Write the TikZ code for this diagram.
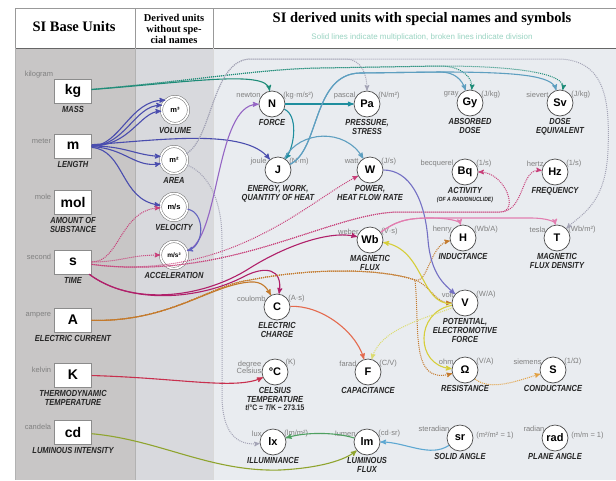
\documentclass[tikz,border=0pt]{standalone}
\usepackage{fontspec}
\setmainfont{Liberation Serif}
\setsansfont{Liberation Sans}
\newfontfamily\qtyfont[FakeStretch=0.85]{Liberation Sans}
\usepackage{tikz}
\usetikzlibrary{arrows,positioning}

\definecolor{leftcol}{HTML}{C8C6C6}
\definecolor{midcol}{HTML}{D8D9DD}
\definecolor{rightcol}{HTML}{E9ECF0}
\definecolor{subcol}{HTML}{9AD4C2}
\definecolor{kgcol}{HTML}{1E8C78}
\definecolor{mcol}{HTML}{4A4DAE}
\definecolor{scol}{HTML}{B0206A}
\definecolor{sdot}{HTML}{C8407A}
\definecolor{acol}{HTML}{C47A2C}
\definecolor{kcol}{HTML}{C8304E}
\definecolor{cdcol}{HTML}{8FA42E}
\definecolor{acccol}{HTML}{9566C4}
\definecolor{velcol}{HTML}{6464C0}
\definecolor{ncol}{HTML}{1F8E9E}
\definecolor{jcol}{HTML}{5E9FC0}
\definecolor{areacol}{HTML}{A4A4B6}
\definecolor{wcol}{HTML}{7470C4}
\definecolor{vcol}{HTML}{D6CE3A}
\definecolor{vdot}{HTML}{DCDC70}
\definecolor{wbcol}{HTML}{E27EB0}
\definecolor{ccol}{HTML}{E46A4E}
\definecolor{ohmdot}{HTML}{E2A040}
\definecolor{lmcol}{HTML}{4EA060}
\definecolor{srcol}{HTML}{5EA8D2}

\begin{document}
\begin{tikzpicture}[x=1pt,y=-1pt,>=stealth',
  base node/.style={rectangle,draw=black!45,fill=white,minimum width=37pt,minimum height=24pt,inner sep=0pt,font=\sffamily\bfseries\fontsize{14}{14}\selectfont},
  plain node/.style={circle,draw=black!55,double=white,double distance=1.8pt,line width=0.5pt,fill=white,minimum size=27pt,inner sep=0pt,font=\sffamily\bfseries\fontsize{7.5}{7.5}\selectfont},
  main node/.style={circle,draw=black!70,fill=white,line width=0.7pt,minimum size=26pt,inner sep=0pt,font=\sffamily\bfseries\fontsize{11}{11}\selectfont},
  qty/.style={font=\qtyfont\bfseries\itshape\fontsize{8.8}{8.8}\selectfont,align=center,inner sep=1pt,text=black!85},
  uname/.style={font=\sffamily\fontsize{7.5}{7.5}\selectfont,text=black!50,inner sep=1pt,align=right},
  mult line/.style={->,line width=1.1pt},
  div line/.style={->,line width=1pt,densely dotted}]

  \useasboundingbox (0,0) rectangle (616,480);
  \fill[white] (0,0) rectangle (616,480);
  \fill[leftcol] (15,48) rectangle (135,480);
  \fill[midcol] (135,48) rectangle (213,480);
  \fill[rightcol] (213,48) rectangle (616,480);
  \draw[black!40] (15,8) rectangle (616,48) (135,8) -- (135,48) (213,8) -- (213,48);
  \draw[black!60,line width=1pt] (15,48) -- (616,48);
  \draw[white!85!black,line width=0.8pt] (213,48) -- (213,480);
  \draw[black!30] (15,48) -- (15,480) (135,48) -- (135,480);

  \node[font=\bfseries\fontsize{14.5}{14.5}\selectfont] (basetitle) at (74,27) {SI Base Units};
  \node[font=\bfseries\fontsize{10.5}{11}\selectfont,align=center] (midtitle) at (174,29) {Derived units\\without spe-\\cial names};
  \node[font=\bfseries\fontsize{14.5}{14.5}\selectfont] (title) at (422,19) {SI derived units with special names and symbols};
  \node[font=\sffamily\fontsize{8}{8}\selectfont,text=subcol,below=1pt of title] (subtitle) {Solid lines indicate multiplication, broken lines indicate division};

  \node[base node] (kg) at (73,91) {kg};
  \node[uname,above left=0pt and 0pt of kg.north west] (kgname) {kilogram};
  \node[qty,below=2pt of kg] (kgq) {MASS};
  \node[base node] (m) at (73,146) {m};
  \node[uname,left=2pt of m.165] (mname) {meter};
  \node[qty,below=2pt of m] (mq) {LENGTH};
  \node[base node] (mol) at (73,202) {mol};
  \node[uname,left=2pt of mol.165] (molname) {mole};
  \node[qty,below=2pt of mol] (molq) {AMOUNT OF\\SUBSTANCE};
  \node[base node] (s) at (73,262) {s};
  \node[uname,left=2pt of s.165] (sname) {second};
  \node[qty,below=2pt of s] (sq) {TIME};
  \node[base node] (A) at (73,320) {A};
  \node[uname,left=2pt of A.165] (Aname) {ampere};
  \node[qty,below=2pt of A] (Aq) {ELECTRIC CURRENT};
  \node[base node] (K) at (73,375) {K};
  \node[uname,left=2pt of K.165] (Kname) {kelvin};
  \node[qty,below=2pt of K] (Kq) {THERMODYNAMIC\\TEMPERATURE};
  \node[base node] (cd) at (73,432) {cd};
  \node[uname,left=2pt of cd.165] (cdname) {candela};
  \node[qty,below=2pt of cd] (cdq) {LUMINOUS INTENSITY};

  \node[plain node] (vol) at (175,110) {m³};
  \node[qty,below=2pt of vol] (volq) {VOLUME};
  \node[plain node] (area) at (174,160) {m²};
  \node[qty,below=2pt of area] (areaq) {AREA};
  \node[plain node] (vel) at (174,207) {m/s};
  \node[qty,below=2pt of vel] (velq) {VELOCITY};
  \node[plain node,font=\sffamily\bfseries\fontsize{6.5}{6.5}\selectfont] (acc) at (174,255) {m/s²};
  \node[qty,below=2pt of acc] (accq) {ACCELERATION};

  \node[main node] (N) at (272,104) {N};
  \node[uname,left=0pt of N.140] (Nname) {newton};
  \node[uname,right=0pt of N.40] (Ndef) {(kg·m/s²)};
  \node[qty,below=1pt of N] (Nq) {FORCE};
  \node[main node] (Pa) at (367,104) {Pa};
  \node[uname,left=0pt of Pa.140] (Paname) {pascal};
  \node[uname,right=0pt of Pa.40] (Padef) {(N/m²)};
  \node[qty,below=1pt of Pa] (Paq) {PRESSURE,\\STRESS};
  \node[main node] (Gy) at (470,103) {Gy};
  \node[uname,left=0pt of Gy.140] (Gyname) {gray};
  \node[uname,right=0pt of Gy.40] (Gydef) {(J/kg)};
  \node[qty,below=1pt of Gy] (Gyq) {ABSORBED\\DOSE};
  \node[main node] (Sv) at (560,103) {Sv};
  \node[uname,left=0pt of Sv.140] (Svname) {sievert};
  \node[uname,right=0pt of Sv.40] (Svdef) {(J/kg)};
  \node[qty,below=1pt of Sv] (Svq) {DOSE\\EQUIVALENT};

  \node[main node] (J) at (278,170) {J};
  \node[uname,left=0pt of J.140] (Jname) {joule};
  \node[uname,right=0pt of J.40] (Jdef) {(N·m)};
  \node[qty,below=1pt of J] (Jq) {ENERGY, WORK,\\QUANTITY OF HEAT};
  \node[main node] (W) at (370,170) {W};
  \node[uname,left=0pt of W.140] (Wname) {watt};
  \node[uname,right=0pt of W.40] (Wdef) {(J/s)};
  \node[qty,below=1pt of W] (Wq) {POWER,\\HEAT FLOW RATE};
  \node[main node] (Bq) at (465,172) {Bq};
  \node[uname,left=0pt of Bq.140] (Bqname) {becquerel};
  \node[uname,right=0pt of Bq.40] (Bqdef) {(1/s)};
  \node[qty,below=1pt of Bq] (Bqq) {ACTIVITY\\[-1pt]{\fontsize{6}{6}\selectfont (OF A RADIONUCLIDE)}};
  \node[main node] (Hz) at (555,172) {Hz};
  \node[uname,left=0pt of Hz.140] (Hzname) {hertz};
  \node[uname,right=0pt of Hz.40] (Hzdef) {(1/s)};
  \node[qty,below=1pt of Hz] (Hzq) {FREQUENCY};

  \node[main node] (Wb) at (370,240) {Wb};
  \node[uname,left=0pt of Wb.140] (Wbname) {weber};
  \node[uname,right=0pt of Wb.40] (Wbdef) {(V·s)};
  \node[qty,below=1pt of Wb] (Wbq) {MAGNETIC\\FLUX};
  \node[main node] (H) at (463,238) {H};
  \node[uname,left=0pt of H.140] (Hname) {henry};
  \node[uname,right=0pt of H.40] (Hdef) {(Wb/A)};
  \node[qty,below=1pt of H] (Hq) {INDUCTANCE};
  \node[main node] (T) at (557,238) {T};
  \node[uname,left=0pt of T.140] (Tname) {tesla};
  \node[uname,right=0pt of T.40] (Tdef) {(Wb/m²)};
  \node[qty,below=1pt of T] (Tq) {MAGNETIC\\FLUX DENSITY};

  \node[main node] (C) at (277,307) {C};
  \node[uname,left=0pt of C.140] (Cname) {coulomb};
  \node[uname,right=0pt of C.40] (Cdef) {(A·s)};
  \node[qty,below=1pt of C] (Cq) {ELECTRIC\\CHARGE};
  \node[main node] (V) at (465,303) {V};
  \node[uname,left=0pt of V.140] (Vname) {volt};
  \node[uname,right=0pt of V.40] (Vdef) {(W/A)};
  \node[qty,below=1pt of V] (Vq) {POTENTIAL,\\ELECTROMOTIVE\\FORCE};

  \node[main node] (degC) at (275,372) {°C};
  \node[uname,left=0pt of degC.160] (degCname) {degree\\Celsius};
  \node[uname,right=0pt of degC.45] (degCdef) {(K)};
  \node[qty,below=1pt of degC] (degCq) {CELSIUS\\TEMPERATURE};
  \node[qty,below=0pt of degCq,font=\qtyfont\bfseries\fontsize{8}{8}\selectfont] (degCeq) {{\itshape t}/°C = {\itshape T}/K − 273.15};
  \node[main node] (F) at (368,372) {F};
  \node[uname,left=0pt of F.140] (Fname) {farad};
  \node[uname,right=0pt of F.40] (Fdef) {(C/V)};
  \node[qty,below=1pt of F] (Fq) {CAPACITANCE};
  \node[main node] (ohm) at (465,370) {Ω};
  \node[uname,left=0pt of ohm.140] (ohmname) {ohm};
  \node[uname,right=0pt of ohm.40] (ohmdef) {(V/A)};
  \node[qty,below=1pt of ohm] (ohmq) {RESISTANCE};
  \node[main node] (S) at (553,370) {S};
  \node[uname,left=0pt of S.140] (Sname) {siemens};
  \node[uname,right=0pt of S.40] (Sdef) {(1/Ω)};
  \node[qty,below=1pt of S] (Sq) {CONDUCTANCE};

  \node[main node] (lx) at (273,442) {lx};
  \node[uname,left=0pt of lx.140] (lxname) {lux};
  \node[uname,right=0pt of lx.40] (lxdef) {(lm/m²)};
  \node[qty,below=1pt of lx] (lxq) {ILLUMINANCE};
  \node[main node] (lm) at (367,442) {lm};
  \node[uname,left=0pt of lm.140] (lmname) {lumen};
  \node[uname,right=0pt of lm.40] (lmdef) {(cd·sr)};
  \node[qty,below=1pt of lm] (lmq) {LUMINOUS\\FLUX};
  \node[main node] (sr) at (460,438) {sr};
  \node[uname,left=0pt of sr.135] (srname) {steradian};
  \node[uname,right=2pt of sr.10] (srdef) {(m²/m² = 1)};
  \node[qty,below=1pt of sr] (srq) {SOLID ANGLE};
  \node[main node] (rad) at (555,438) {rad};
  \node[uname,left=0pt of rad.135] (radname) {radian};
  \node[uname,right=2pt of rad.10] (raddef) {(m/m = 1)};
  \node[qty,below=1pt of rad] (radq) {PLANE ANGLE};

  \draw[mult line,kgcol] (kg) .. controls (190,82) and (266,70) .. (N);
  \draw[div line,kgcol] (kg) .. controls (200,80) and (260,69) .. (320,68) -- (440,66) .. controls (462,66) and (473,78) .. (Gy);
  \draw[div line,kgcol] (kg) .. controls (200,80) and (260,69) .. (320,68) -- (440,66) .. controls (520,66) and (566,74) .. (Sv);

  \draw[mult line,mcol] (m) .. controls (120,146) and (130,100) .. (vol.135);
  \draw[mult line,mcol] (m) .. controls (125,146) and (135,105) .. (vol.160);
  \draw[mult line,mcol] (m) .. controls (130,146) and (140,112) .. (vol.185);
  \draw[mult line,mcol] (m) .. controls (125,146) and (135,155) .. (area.165);
  \draw[mult line,mcol] (m) .. controls (125,148) and (135,168) .. (area.195);
  \draw[mult line,mcol] (m) .. controls (125,150) and (120,200) .. (vel);
  \draw[mult line,mcol] (m) .. controls (160,140) and (245,128) .. (J);

  \draw[div line,areacol] (area) .. controls (212,140) and (212,60) .. (250,59) -- (345,59) .. controls (362,59) and (367,75) .. (Pa);
  \draw[div line,areacol] (area) .. controls (212,140) and (212,60) .. (250,59) -- (560,59) .. controls (605,61) and (610,100) .. (608,150) .. controls (606,205) and (580,215) .. (T);
  \draw[div line,areacol] (area) .. controls (205,172) and (222,195) .. (222,240) -- (222,395) .. controls (222,432) and (236,446) .. (lx);

  \draw[div line,sdot] (s) .. controls (120,262) and (120,210) .. (vel);
  \draw[div line,sdot] (s) .. controls (120,262) and (130,255) .. (acc);
  \draw[div line,sdot] (s) .. controls (230,282) and (310,200) .. (W);
  \draw[div line,sdot] (s) .. controls (230,282) and (330,212) .. (400,212) -- (500,212) .. controls (520,212) and (505,172) .. (Bq);
  \draw[div line,sdot] (s) .. controls (230,282) and (330,212) .. (400,212) -- (500,212) .. controls (525,212) and (520,168) .. (Hz);

  \draw[mult line,scol] (s) .. controls (130,305) and (200,300) .. (250,268) .. controls (285,246) and (330,230) .. (Wb);
  \draw[mult line,scol] (s) .. controls (130,305) and (200,300) .. (245,276) .. controls (265,266) and (283,268) .. (C);

  \draw[mult line,acol] (A) .. controls (170,322) and (210,285) .. (250,282) .. controls (262,281) and (267,288) .. (C);
  \draw[div line,acol] (A) .. controls (170,322) and (210,285) .. (250,280) .. controls (310,268) and (380,268) .. (415,280) .. controls (428,284) and (430,245) .. (H);
  \draw[div line,acol] (A) .. controls (170,322) and (210,285) .. (250,280) .. controls (310,268) and (380,268) .. (415,280) .. controls (430,285) and (435,303) .. (V);
  \draw[div line,acol] (A) .. controls (170,322) and (210,285) .. (250,280) .. controls (310,268) and (380,268) .. (415,280) .. controls (420,330) and (410,385) .. (ohm);

  \draw[mult line,kcol] (K) .. controls (180,378) and (235,390) .. (degC);
  \draw[mult line,cdcol] (cd) .. controls (160,440) and (210,472) .. (280,470) .. controls (320,468) and (345,460) .. (lm);

  \draw[mult line,acccol] (acc) .. controls (220,240) and (215,105) .. (N);
  \draw[mult line,velcol] (vel) .. controls (205,212) and (205,245) .. (acc);

  \path[mult line,ncol] (N) edge (Pa);
  \draw[mult line,ncol] (N) .. controls (298,115) and (295,145) .. (J);

  \draw[mult line,jcol] (J) .. controls (300,130) and (345,128) .. (W);
  \draw[mult line,jcol] (J) .. controls (320,150) and (312,74) .. (360,73) -- (440,72) .. controls (455,72) and (462,80) .. (Gy);
  \draw[mult line,jcol] (J) .. controls (320,150) and (312,74) .. (360,73) -- (440,72) .. controls (520,72) and (552,76) .. (Sv);

  \draw[mult line,wcol] (W) .. controls (410,170) and (425,200) .. (428,240) .. controls (431,275) and (445,285) .. (V);

  \draw[mult line,vcol] (V) .. controls (420,305) and (425,250) .. (Wb);
  \draw[mult line,vcol] (V) .. controls (415,312) and (415,365) .. (ohm);
  \draw[div line,vdot] (V) .. controls (420,320) and (380,330) .. (F);

  \draw[mult line,ccol] (C) .. controls (320,305) and (355,330) .. (F);

  \draw[mult line,wbcol] (Wb) .. controls (395,222) and (405,218) .. (430,218) .. controls (452,218) and (460,222) .. (H);
  \draw[mult line,wbcol] (Wb) .. controls (395,222) and (405,218) .. (430,218) -- (530,218) .. controls (548,218) and (555,222) .. (T);

  \draw[div line,ohmdot] (ohm) .. controls (490,392) and (520,380) .. (S);

  \draw[mult line,lmcol] (lm) .. controls (335,432) and (305,432) .. (lx);
  \draw[mult line,srcol] (sr) .. controls (430,458) and (405,442) .. (lm);
\end{tikzpicture}
\end{document}
